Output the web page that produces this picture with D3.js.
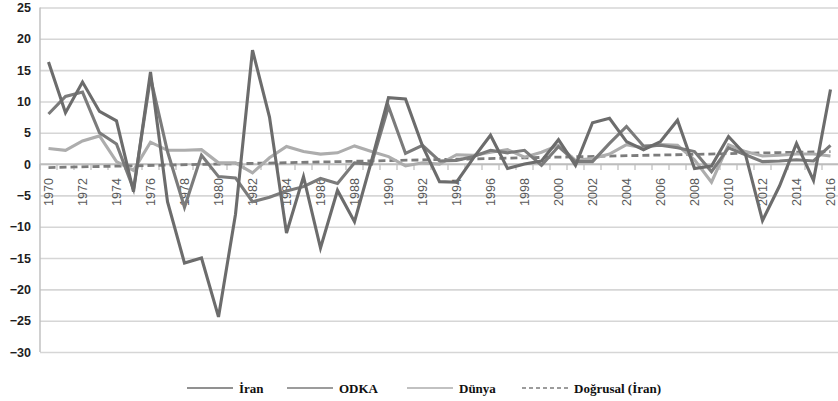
<!DOCTYPE html>
<html>
<head>
<meta charset="utf-8">
<script src="https://cdn.jsdelivr.net/npm/d3@7"></script>
<style>
  body { margin: 0; background: #fff; }
  svg { display: block; }
</style>
</head>
<body>
<svg id="Vis" width="838" height="401"></svg>
<script>
/* DATA */
const years = [1970, 1971, 1972, 1973, 1974, 1975, 1976, 1977, 1978, 1979,
  1980, 1981, 1982, 1983, 1984, 1985, 1986, 1987, 1988, 1989,
  1990, 1991, 1992, 1993, 1994, 1995, 1996, 1997, 1998, 1999,
  2000, 2001, 2002, 2003, 2004, 2005, 2006, 2007, 2008, 2009,
  2010, 2011, 2012, 2013, 2014, 2015, 2016];

const iran = [16.3, 8.2, 13.1, 8.4, 6.9, -4.4, 14.7, -6.0, -15.8, -15.0,
  -24.4, -8.0, 18.2, 7.5, -11.0, -2.0, -13.4, -4.2, -9.2, 0.5,
  10.6, 10.4, 2.9, -2.8, -2.9, 1.0, 4.6, -0.7, 0.0, 0.5,
  3.9, -0.2, 6.6, 7.3, 3.6, 2.3, 3.6, 7.0, -0.7, -0.3,
  4.4, 1.5, -9.0, -3.5, 3.3, -2.6, 11.9];

const odka = [8.0, 10.8, 11.5, 5.0, 3.2, -4.0, 13.8, 2.0, -6.9, 1.4,
  -2.0, -2.2, -6.0, -5.3, -4.3, -3.6, -2.3, -3.1, 0.2, 0.0,
  9.2, 1.7, 3.0, 0.5, 0.6, 1.2, 2.2, 1.8, 2.2, -0.2,
  2.8, 0.4, 0.4, 3.3, 6.0, 2.9, 3.0, 2.6, 2.0, -1.2,
  2.6, 1.5, 0.4, 0.5, 0.7, 0.5, 3.0];

const dunya = [2.5, 2.2, 3.7, 4.5, 0.4, -1.0, 3.5, 2.2, 2.2, 2.3,
  0.2, 0.2, -1.4, 1.0, 2.8, 2.0, 1.6, 1.8, 2.9, 2.0,
  1.2, -0.3, 0.2, 0.0, 1.5, 1.4, 1.9, 2.3, 1.1, 1.9,
  3.0, 0.6, 0.9, 1.6, 3.1, 2.6, 3.1, 3.0, 0.7, -2.9,
  3.1, 2.0, 1.3, 1.4, 1.6, 1.6, 1.3];

// linear trend of Iran (Excel "Doğrusal"), end points
const trendYears = [1970, 2016];
const trendValues = [-0.55, 2.0];

const yTicks = [25, 20, 15, 10, 5, 0, -5, -10, -15, -20, -25, -30];
const xLabels = years.filter((d, i) => i % 2 === 0);

const seriesNames = ["İran", "ODKA", "Dünya", "Doğrusal (İran)"];

/* LAYOUT */
const margin = { top: 7.5, bottom: 49, left: 40, right: -1 };

let svg = d3.select("body").select("svg#Vis");
const width = +svg.attr("width");
const height = +svg.attr("height");
const plotWidth = width - margin.left - margin.right;
const plotHeight = height - margin.top - margin.bottom;

const plot = svg.append("g").attr("id", "plot")
  .attr("transform", translate(margin.left, margin.top));

/* SCALES */
const xScale = d3.scaleBand()
  .domain(years)
  .range([0, plotWidth])
  .paddingInner(0)
  .paddingOuter(0);

const yScale = d3.scaleLinear()
  .domain([-30, 25])
  .range([plotHeight, 0]);

const xMid = d => xScale(d) + xScale.bandwidth() / 2;

/* GRID + Y AXIS */
const yAxis = d3.axisLeft(yScale)
  .tickValues(yTicks)
  .tickSize(-plotWidth)
  .tickPadding(9)
  .tickFormat(d3.format("d"));

const yGroup = plot.append("g").attr("id", "y-axis").call(yAxis);
yGroup.select(".domain").remove();
yGroup.selectAll(".tick line")
  .attr("stroke", "#d6d6d6")
  .attr("stroke-width", 1.6);
yGroup.selectAll(".tick text")
  .attr("fill", "#1e1e1e")
  .style("font-family", "'Liberation Sans', Arial, sans-serif")
  .style("font-size", "12.5px")
  .style("font-weight", "bold");

plot.append("line")
  .attr("x1", 0).attr("x2", 0)
  .attr("y1", 0).attr("y2", plotHeight)
  .attr("stroke", "#bdbdbd")
  .attr("stroke-width", 1.4);

/* X AXIS (crosses at 0) */
const xGroup = plot.append("g").attr("id", "x-axis")
  .attr("transform", translate(0, yScale(0)));

xGroup.append("line")
  .attr("x1", 0).attr("x2", plotWidth)
  .attr("stroke", "#bdbdbd")
  .attr("stroke-width", 1.6);

xGroup.selectAll("line.tick")
  .data(years)
  .enter()
  .append("line")
    .attr("class", "tick")
    .attr("x1", d => xScale(d)).attr("x2", d => xScale(d))
    .attr("y1", 0).attr("y2", 6)
    .attr("stroke", "#bdbdbd")
    .attr("stroke-width", 1.2);

xGroup.selectAll("text")
  .data(xLabels)
  .enter()
  .append("text")
    .attr("transform", d => translate(xMid(d) + 4.5, 14) + " rotate(-90)")
    .attr("text-anchor", "end")
    .attr("fill", "#5a5a5a")
    .style("font-family", "'Liberation Sans', Arial, sans-serif")
    .style("font-size", "12.5px")
    .text(d => d);

/* LINES */
const line = d3.line()
  .x(d => xMid(d[0]))
  .y(d => yScale(d[1]));

const pairs = values => years.map((y, i) => [y, values[i]]);

const linesGroup = plot.append("g").attr("id", "lines");

linesGroup.append("path")
  .datum(trendYears.map((y, i) => [y, trendValues[i]]))
  .attr("d", line)
  .attr("fill", "none")
  .attr("stroke", "#7c7c7c")
  .attr("stroke-width", 2.8)
  .attr("stroke-dasharray", "7,4");

const seriesStyle = [
  { values: dunya, color: "#adadad" },
  { values: odka, color: "#7b7b7b" },
  { values: iran, color: "#6c6c6c" }
];

seriesStyle.forEach(s => {
  linesGroup.append("path")
    .datum(pairs(s.values))
    .attr("d", line)
    .attr("fill", "none")
    .attr("stroke", s.color)
    .attr("stroke-width", 3.1)
    .attr("stroke-linejoin", "miter");
});

/* LEGEND */
const legendItems = [
  { name: seriesNames[0], color: "#6c6c6c", dash: null, x: 187 },
  { name: seriesNames[1], color: "#7b7b7b", dash: null, x: 287 },
  { name: seriesNames[2], color: "#adadad", dash: null, x: 407 },
  { name: seriesNames[3], color: "#7c7c7c", dash: "4,3", x: 522 }
];

const legend = svg.append("g").attr("id", "legend")
  .attr("transform", translate(0, 388));

const item = legend.selectAll("g")
  .data(legendItems)
  .enter()
  .append("g")
    .attr("transform", d => translate(d.x, 0));

item.append("line")
  .attr("x1", 0).attr("x2", 46)
  .attr("stroke", d => d.color)
  .attr("stroke-width", 1.6)
  .attr("stroke-dasharray", d => d.dash);

item.append("text")
  .attr("x", 52)
  .attr("y", 4.5)
  .attr("fill", "#111")
  .style("font-family", "'Liberation Serif', 'DejaVu Serif', serif")
  .style("font-size", "13px")
  .style("font-weight", "600")
  .text(d => d.name);

/*
 * returns a translate string for the transform attribute
 */
function translate(x, y) {
  return 'translate(' + String(x) + ',' + String(y) + ')';
}
</script>
</body>
</html>
